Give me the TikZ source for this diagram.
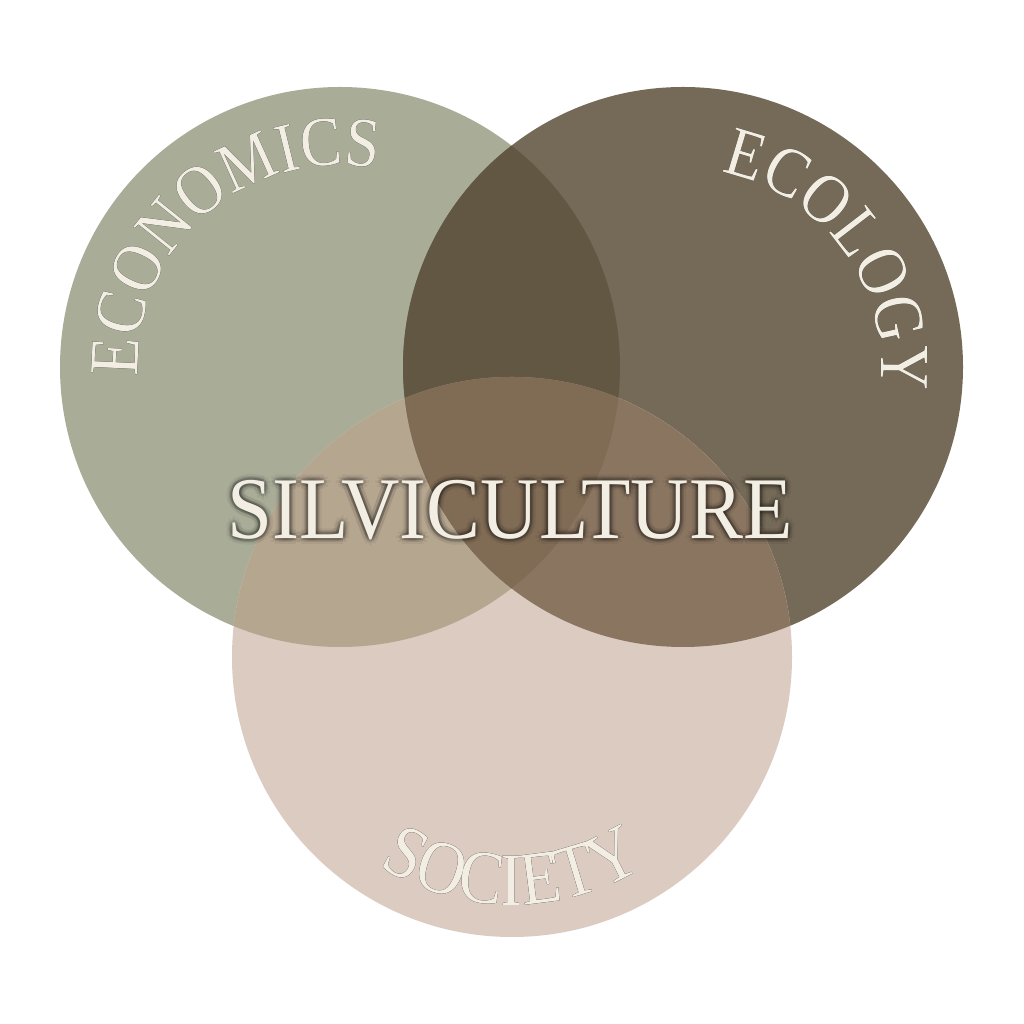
\documentclass[tikz,border=0pt]{standalone}
\usepackage{fontspec}
\usepackage{tikz}
\usetikzlibrary{decorations.text}
\newfontfamily\labelfont[FakeStretch=0.88]{Liberation Serif}
\newfontfamily\titlefont[FakeStretch=0.92]{Liberation Serif}

\definecolor{econfill}{HTML}{A9AD98}
\definecolor{ecofill}{HTML}{756A58}
\definecolor{socfill}{HTML}{DBCBC1}
\definecolor{econeco}{HTML}{625742}
\definecolor{econsoc}{HTML}{B5A690}
\definecolor{ecosoc}{HTML}{8A7561}
\definecolor{allthree}{HTML}{806B55}
\definecolor{cream}{HTML}{F3EEE3}

\tikzset{
  ring text/.style 2 args={decorate, decoration={text along path, text align=center,
      text color=cream, text={|\labelfont\fontsize{#2}{#2}\selectfont|#1}}},
  ring halo/.style 2 args={decorate, decoration={text along path, text align=center,
      text color=black, text={|\labelfont\fontsize{#2}{#2}\selectfont|#1}}},
  title/.style={text=cream, font=\titlefont\fontsize{25}{25}\selectfont, inner sep=0pt},
}

\begin{document}
\begin{tikzpicture}[x=0.01cm, y=0.01cm]
        \useasboundingbox[fill=white] (0,0) rectangle (1024,1024);

        % Centres
        \coordinate (econ) at (340,657);
        \coordinate (eco) at (683,657);
        \coordinate (soc) at (512,367);

        % Circles
        \fill[econfill] (econ) circle[radius=280];
        \fill[ecofill] (eco) circle[radius=280];
        \fill[socfill] (soc) circle[radius=280];

        % Overlaps
        \begin{scope}
            \clip (econ) circle[radius=280];
            \fill[econeco] (eco) circle[radius=280];
            \fill[econsoc] (soc) circle[radius=280];
        \end{scope}
        \begin{scope}
            \clip (eco) circle[radius=280];
            \fill[ecosoc] (soc) circle[radius=280];
            \clip (econ) circle[radius=280];
            \fill[allthree] (soc) circle[radius=280];
        \end{scope}

        % Halos
        \foreach \dx/\dy/\op in {-3/0/0.1, 3/0/0.1, 0/3/0.1, 0/-3/0.1, -2/-2/0.1, 2/-2/0.1, -2/2/0.1, 2/2/0.1,
                                 -6/0/0.05, 6/0/0.05, 0/6/0.05, 0/-6/0.05, -4/-4/0.05, 4/-4/0.05, -4/4/0.05, 4/4/0.05} {
            \begin{scope}[shift={(\dx,\dy)}, opacity=\op]
                \path[ring halo={ECONOMICS}{20}] (econ) ++(201:202) arc[start angle=201, end angle=61, radius=202];
                \path[ring halo={ECOLOGY}{20}] (eco) ++(96:198) arc[start angle=96, end angle=-24, radius=198];
                \path[ring halo={SOCIETY}{21.5}] (soc) ++(210:248) arc[start angle=210, end angle=330, radius=248];
                \node[title, text=black] at (510,514) {SILVICULTURE};
            \end{scope}
        }

        % Labels
        \path[ring text={ECONOMICS}{20}] (econ) ++(201:202) arc[start angle=201, end angle=61, radius=202];
        \path[ring text={ECOLOGY}{20}] (eco) ++(96:198) arc[start angle=96, end angle=-24, radius=198];
        \path[ring text={SOCIETY}{21.5}] (soc) ++(210:248) arc[start angle=210, end angle=330, radius=248];
        \node[title] (silv) at (510,514) {SILVICULTURE};
    \end{tikzpicture}
\end{document}
